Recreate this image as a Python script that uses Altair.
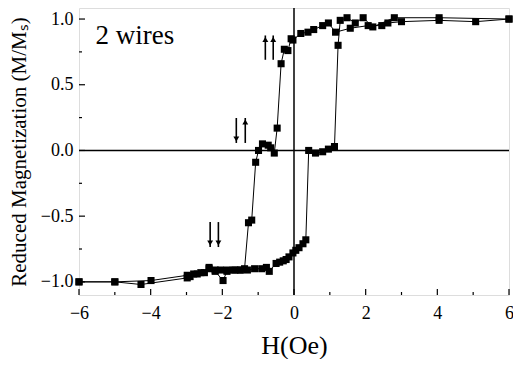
import altair as alt
import pandas as pd

# Descending branch (H from +6 to -6)
desc_H = [6.0, 5.07, 4.05, 3.0, 2.62, 2.45, 2.07, 1.57, 1.16, 0.96, 0.8, 0.55, 0.39, 0.19,
          -0.03, -0.08, -0.17, -0.27, -0.36, -0.47, -0.55, -0.65, -0.72, -0.88, -0.99, -1.07,
          -1.18, -1.27, -1.38, -1.5, -1.65, -1.87, -1.98, -2.2, -2.37, -2.5, -2.7, -2.9, -2.98,
          -4.27, -5.0, -6.0]
desc_M = [1.0, 0.98, 0.99, 0.98, 0.97, 0.95, 0.95, 0.93, 0.90, 0.97, 0.95, 0.92, 0.90, 0.89,
          0.84, 0.85, 0.76, 0.77, 0.66, 0.17, -0.02, 0.02, 0.04, 0.05, 0.0, -0.09,
          -0.53, -0.55, -0.90, -0.91, -0.91, -0.92, -0.99, -0.92, -0.90, -0.93, -0.94, -0.96, -0.97,
          -1.02, -1.0, -1.0]

# Ascending branch (H from -6 to +6)
asc_H = [-6.0, -5.0, -3.99, -2.98, -2.8, -2.6, -2.37, -2.2, -2.05, -1.87, -1.7, -1.5, -1.3,
         -1.1, -0.9, -0.77, -0.69, -0.5, -0.4, -0.3, -0.22, -0.14, -0.03, 0.05, 0.14, 0.25, 0.33,
         0.41, 0.6, 0.8, 0.96, 1.13, 1.23, 1.29, 1.48, 1.71, 1.93, 2.2, 2.8, 4.05, 6.0]
asc_M = [-1.0, -1.0, -0.99, -0.95, -0.94, -0.93, -0.89, -0.91, -0.91, -0.91, -0.91, -0.91, -0.91,
         -0.90, -0.90, -0.89, -0.92, -0.86, -0.85, -0.84, -0.83, -0.81, -0.78, -0.76, -0.74, -0.71, -0.68,
         0.0, -0.02, -0.01, 0.01, 0.03, 0.80, 0.99, 1.01, 0.97, 1.01, 0.94, 1.01, 1.01, 1.0]

# Arrow annotations (spin symbols)
arrow_x = [-0.80, -0.58, -1.61, -1.36, -2.34, -2.11]
arrow_tail = [0.69, 0.69, 0.247, 0.057, -0.545, -0.545]
arrow_tip = [0.875, 0.875, 0.057, 0.247, -0.735, -0.735]
arrow_dir = ["up", "up", "down", "up", "down", "down"]

x_major = [-6, -4, -2, 0, 2, 4, 6]
x_minor = [-5, -3, -1, 1, 3, 5]
y_major = [-1.0, -0.5, 0.0, 0.5, 1.0]
y_minor = [-0.75, -0.25, 0.25, 0.75]

W, H = 430, 287
FONT = "Liberation Serif"

loop = pd.DataFrame({
    "H": desc_H + asc_H,
    "M": desc_M + asc_M,
    "i": list(range(len(desc_H) + len(asc_H))),
})

xs = alt.Scale(domain=[-6, 6], nice=False, zero=False)
ys = alt.Scale(domain=[-1.1, 1.084], nice=False, zero=False)

xaxis = alt.Axis(values=x_major, ticks=False, grid=False, domain=False, labelFont=FONT,
                 labelFontSize=18, labelPadding=9, labelColor="black", title="H(Oe)",
                 titleFont=FONT, titleFontSize=26, titleFontWeight="normal", titlePadding=10,
                 titleColor="black", labelFlush=False)
yaxis = alt.Axis(values=y_major, ticks=False, grid=False, domain=False, labelFont=FONT,
                 labelFontSize=18, labelPadding=6, labelColor="black",
                 title="Reduced Magnetization (M/Mₛ)", titleFont=FONT, titleFontSize=21,
                 titleFontWeight="normal", titlePadding=11, titleColor="black", format=".1f",
                 labelFlush=False)

base = alt.Chart(loop)

line = base.mark_line(color="black", strokeWidth=1).encode(
    x=alt.X("H:Q", scale=xs, axis=xaxis),
    y=alt.Y("M:Q", scale=ys, axis=yaxis),
    order="i:Q",
)
pts = base.mark_square(color="black", size=50, opacity=1).encode(
    x=alt.X("H:Q", scale=xs), y=alt.Y("M:Q", scale=ys)
)

zero_v = alt.Chart(pd.DataFrame({"x": [0]})).mark_rule(color="black", strokeWidth=1.5).encode(
    x=alt.X("x:Q", scale=xs), y=alt.value(0), y2=alt.value(H))
zero_h = alt.Chart(pd.DataFrame({"y": [0]})).mark_rule(color="black", strokeWidth=1.5).encode(
    y=alt.Y("y:Q", scale=ys), x=alt.value(0), x2=alt.value(W))

xt_major = alt.Chart(pd.DataFrame({"x": x_major})).mark_rule(color="black", strokeWidth=1.2).encode(
    x=alt.X("x:Q", scale=xs), y=alt.value(H), y2=alt.value(H - 6))
xt_minor = alt.Chart(pd.DataFrame({"x": x_minor})).mark_rule(color="black", strokeWidth=1.2).encode(
    x=alt.X("x:Q", scale=xs), y=alt.value(H), y2=alt.value(H - 3))
yt_major = alt.Chart(pd.DataFrame({"y": y_major})).mark_rule(color="black", strokeWidth=1.2).encode(
    y=alt.Y("y:Q", scale=ys), x=alt.value(0), x2=alt.value(6))
yt_minor = alt.Chart(pd.DataFrame({"y": y_minor})).mark_rule(color="black", strokeWidth=1.2).encode(
    y=alt.Y("y:Q", scale=ys), x=alt.value(0), x2=alt.value(3))

arr = pd.DataFrame({"x": arrow_x, "tail": arrow_tail, "tip": arrow_tip, "dir": arrow_dir})
shafts = alt.Chart(arr).mark_rule(color="black", strokeWidth=1.6).encode(
    x=alt.X("x:Q", scale=xs), y=alt.Y("tail:Q", scale=ys), y2="tip:Q")
heads_up = alt.Chart(arr).transform_filter(alt.datum.dir == "up").mark_point(
    shape="triangle-up", filled=True, color="black", size=35, opacity=1, yOffset=4).encode(
    x=alt.X("x:Q", scale=xs), y=alt.Y("tip:Q", scale=ys))
heads_dn = alt.Chart(arr).transform_filter(alt.datum.dir == "down").mark_point(
    shape="triangle-down", filled=True, color="black", size=35, opacity=1, yOffset=-4).encode(
    x=alt.X("x:Q", scale=xs), y=alt.Y("tip:Q", scale=ys))

label = alt.Chart(pd.DataFrame({"x": [-5.54], "y": [0.81], "t": ["2 wires"]})).mark_text(
    font=FONT, fontSize=27, align="left", baseline="alphabetic", color="black").encode(
    x=alt.X("x:Q", scale=xs), y=alt.Y("y:Q", scale=ys), text="t:N")

chart = alt.layer(
    zero_v, zero_h, xt_major, xt_minor, yt_major, yt_minor, line, pts,
    shafts, heads_up, heads_dn, label
).properties(
    width=W, height=H,
    autosize=alt.AutoSizeParams(type="none"),
    padding={"left": 71, "top": 0, "right": 4, "bottom": 64},
).configure_view(stroke="black", strokeWidth=2).configure(background="white")

chart.save("out.html", embed_options={"renderer": "svg", "actions": False})
